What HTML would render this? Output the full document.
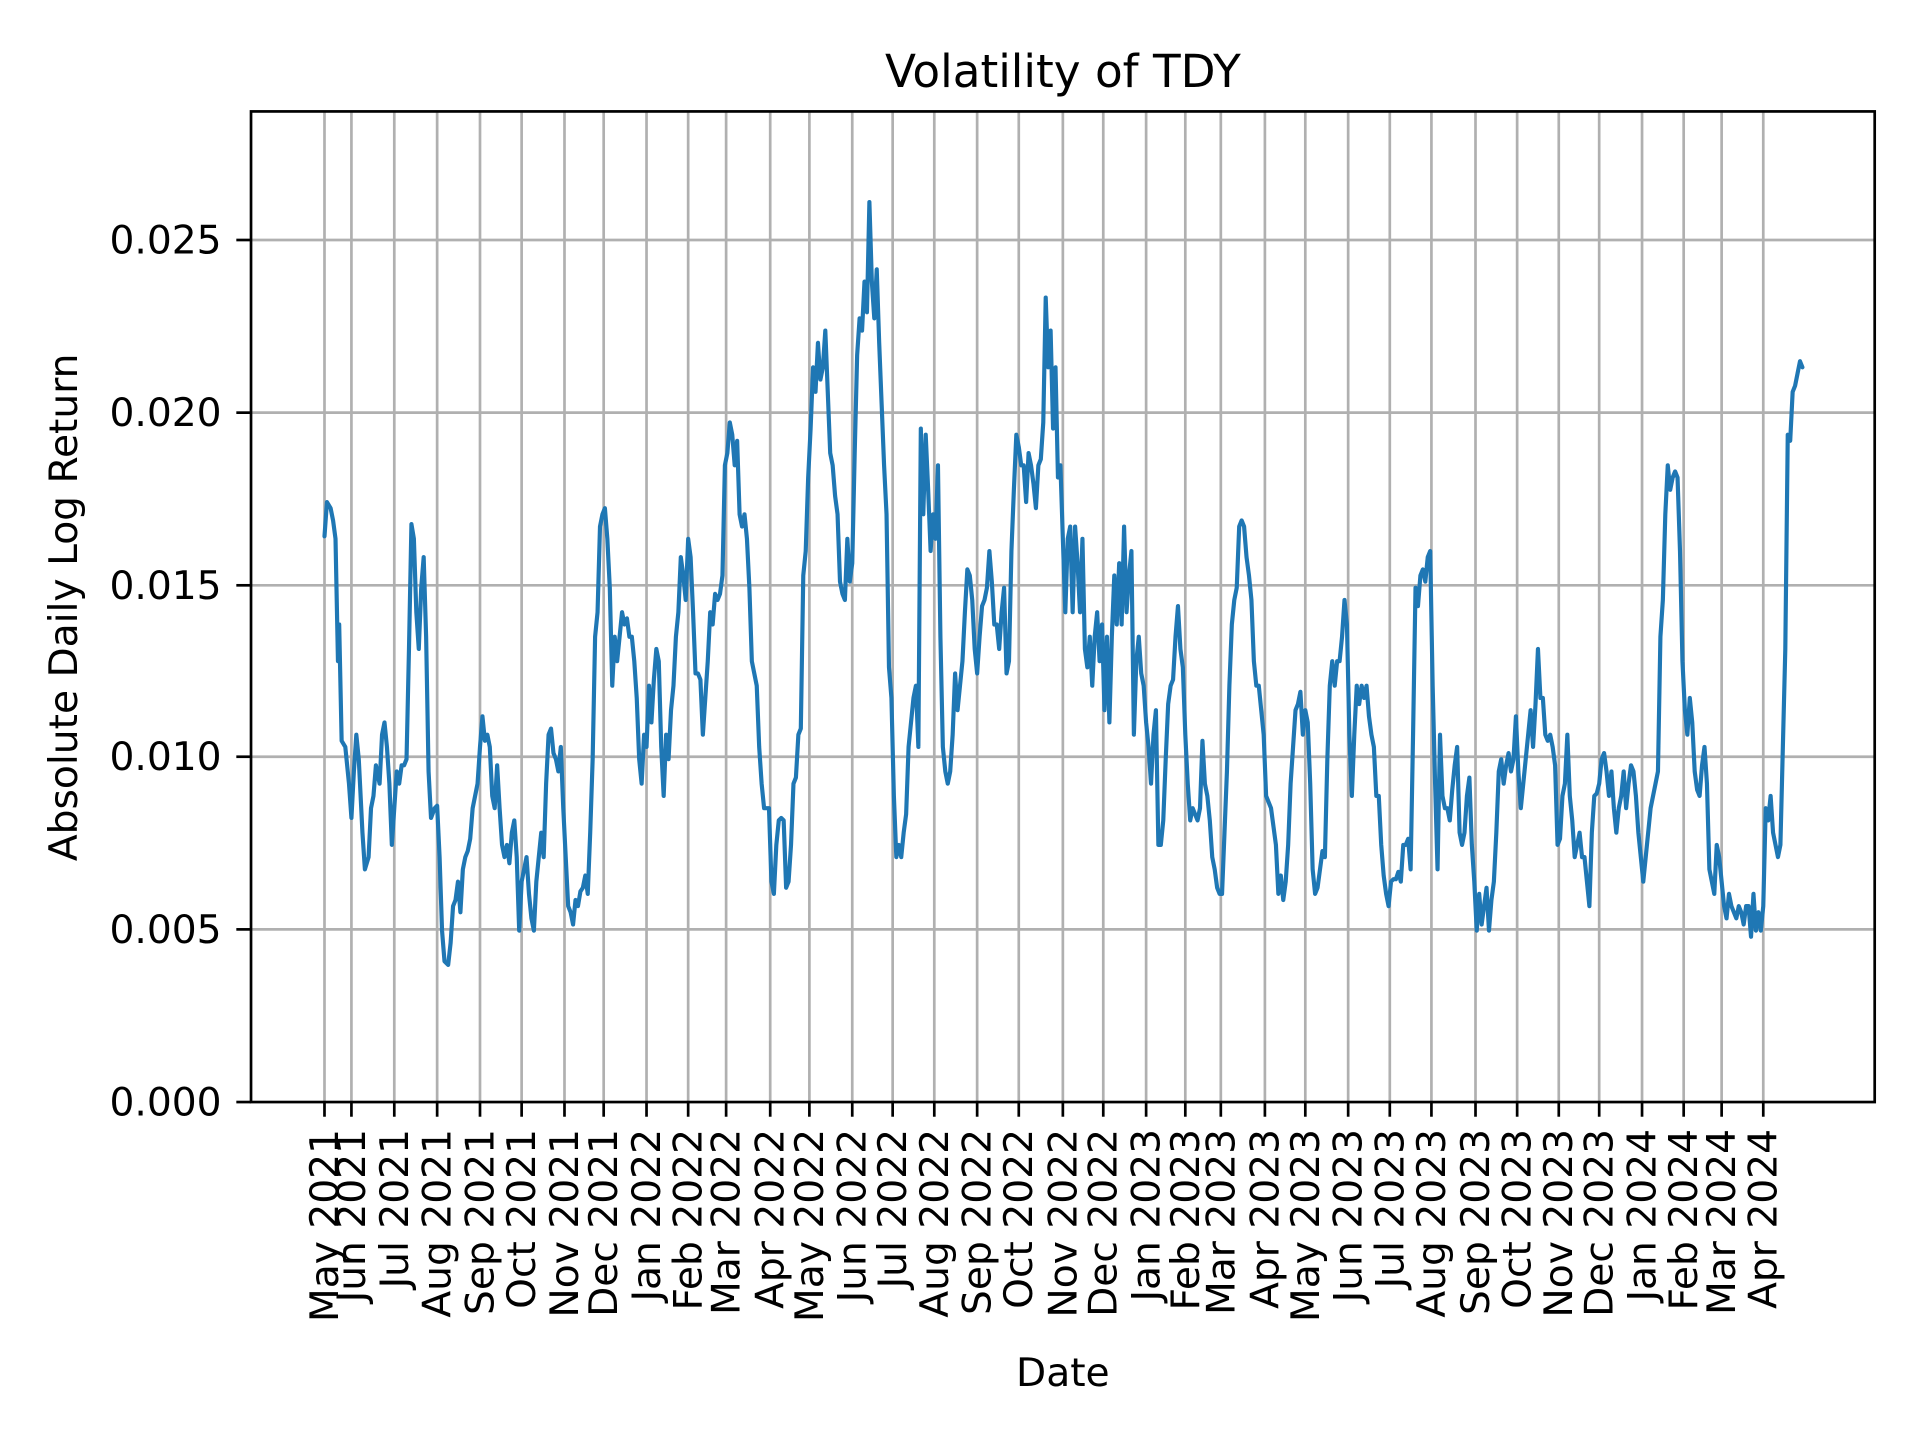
<!DOCTYPE html>
<html><head><meta charset="utf-8"><style>html,body{margin:0;padding:0;background:#fff}svg{display:block}</style></head>
<body>
<svg width="1920" height="1440" viewBox="0 0 1568 1176" preserveAspectRatio="none" xmlns="http://www.w3.org/2000/svg" font-family="'DejaVu Sans', 'Liberation Sans', sans-serif">
<rect width="1568" height="1176" fill="#fff"/>
<g stroke="#b0b0b0" stroke-width="2.2">
<line x1="205" x2="1531" y1="759" y2="759"/><line x1="205" x2="1531" y1="618" y2="618"/><line x1="205" x2="1531" y1="478" y2="478"/><line x1="205" x2="1531" y1="337" y2="337"/><line x1="205" x2="1531" y1="196" y2="196"/>
<line x1="265" x2="265" y1="91" y2="900"/><line x1="287" x2="287" y1="91" y2="900"/><line x1="322" x2="322" y1="91" y2="900"/><line x1="357" x2="357" y1="91" y2="900"/><line x1="392" x2="392" y1="91" y2="900"/><line x1="426" x2="426" y1="91" y2="900"/><line x1="461" x2="461" y1="91" y2="900"/><line x1="493" x2="493" y1="91" y2="900"/><line x1="528" x2="528" y1="91" y2="900"/><line x1="562" x2="562" y1="91" y2="900"/><line x1="593" x2="593" y1="91" y2="900"/><line x1="629" x2="629" y1="91" y2="900"/><line x1="661" x2="661" y1="91" y2="900"/><line x1="696" x2="696" y1="91" y2="900"/><line x1="729" x2="729" y1="91" y2="900"/><line x1="763" x2="763" y1="91" y2="900"/><line x1="798" x2="798" y1="91" y2="900"/><line x1="832" x2="832" y1="91" y2="900"/><line x1="868" x2="868" y1="91" y2="900"/><line x1="901" x2="901" y1="91" y2="900"/><line x1="936" x2="936" y1="91" y2="900"/><line x1="968" x2="968" y1="91" y2="900"/><line x1="997" x2="997" y1="91" y2="900"/><line x1="1033" x2="1033" y1="91" y2="900"/><line x1="1066" x2="1066" y1="91" y2="900"/><line x1="1101" x2="1101" y1="91" y2="900"/><line x1="1135" x2="1135" y1="91" y2="900"/><line x1="1169" x2="1169" y1="91" y2="900"/><line x1="1205" x2="1205" y1="91" y2="900"/><line x1="1239" x2="1239" y1="91" y2="900"/><line x1="1273" x2="1273" y1="91" y2="900"/><line x1="1306" x2="1306" y1="91" y2="900"/><line x1="1341" x2="1341" y1="91" y2="900"/><line x1="1375" x2="1375" y1="91" y2="900"/><line x1="1406" x2="1406" y1="91" y2="900"/><line x1="1440" x2="1440" y1="91" y2="900"/>
</g>
<polyline fill="none" stroke="#1f77b4" stroke-width="3.4" stroke-linejoin="round" stroke-linecap="round" points="265,438 267,410 270,415 272,425 274,440 276,540 277,510 279,605 282,610 285,640 287,668 289,630 291,600 293,620 296,680 298,710 301,700 303,660 305,650 307,625 310,640 312,600 314,590 316,610 318,640 320,690 322,660 324,630 326,640 328,625 330,625 332,620 334,530 336,428 338,440 340,500 342,530 344,480 346,455 348,520 350,630 352,668 355,660 357,658 359,700 361,760 363,785 366,788 368,770 370,740 372,735 374,720 376,745 378,710 380,700 382,695 384,685 386,660 388,650 390,640 392,610 394,585 396,605 398,600 400,610 402,650 404,660 406,625 408,660 410,690 412,700 414,690 416,705 418,680 420,670 422,700 424,760 426,720 428,710 430,700 432,730 434,750 436,760 438,720 440,700 442,680 444,700 446,640 448,600 450,595 452,615 454,620 456,630 458,610 460,660 462,700 464,740 466,745 468,755 470,735 472,740 474,728 476,725 478,715 480,730 482,680 484,620 486,520 488,500 490,430 492,420 494,415 496,440 498,480 500,560 502,520 504,540 506,520 508,500 510,510 512,505 514,520 516,520 518,540 520,570 522,620 524,640 526,600 528,610 530,560 532,590 534,555 536,530 538,540 540,610 542,650 544,600 546,620 548,580 550,560 552,520 554,500 556,455 558,470 560,490 562,440 564,455 566,500 568,550 570,550 572,555 574,600 576,570 578,540 580,500 582,510 584,485 586,490 588,485 590,470 592,380 594,370 596,345 598,355 600,380 602,360 604,420 606,430 608,420 610,440 612,480 614,540 616,550 618,560 620,610 622,640 624,660 626,660 628,660 630,720 632,730 634,690 636,670 638,668 640,670 642,725 644,720 646,690 648,640 650,635 652,600 654,595 656,470 658,450 660,390 662,350 664,300 666,320 668,280 670,310 672,300 674,270 676,320 678,370 680,380 682,405 684,420 686,475 688,485 690,490 692,440 694,475 696,460 698,370 700,290 702,260 704,270 706,230 708,255 710,165 712,230 714,260 716,220 718,280 720,330 722,380 724,420 726,545 728,570 730,650 732,700 734,690 736,700 738,680 740,665 742,610 744,590 746,570 748,560 750,610 752,350 754,420 756,355 758,400 760,450 762,420 764,440 766,380 768,520 770,610 772,630 774,640 776,630 778,600 780,550 782,580 784,560 786,540 788,500 790,465 792,470 794,490 796,530 798,550 800,520 802,495 804,490 806,480 808,450 810,475 812,510 814,510 816,530 818,500 820,480 822,550 824,540 826,450 828,400 830,355 832,365 834,380 836,380 838,410 840,370 842,380 844,395 846,415 848,380 850,375 852,345 854,243 856,300 858,270 860,350 862,300 864,390 866,380 868,440 870,500 872,440 874,430 876,500 878,430 880,460 882,500 884,440 886,530 888,545 890,520 892,560 894,520 896,500 898,540 900,510 902,580 904,520 906,590 908,520 910,470 912,510 914,460 916,510 918,430 920,500 922,470 924,450 926,600 928,540 930,520 932,550 934,560 936,590 938,610 940,640 942,600 944,580 946,690 948,690 950,670 952,620 954,575 956,560 958,555 960,520 962,495 964,530 966,545 968,600 970,640 972,670 974,660 976,665 978,670 980,660 982,605 984,640 986,650 988,670 990,700 992,710 994,725 996,730 998,730 1000,680 1002,630 1004,560 1006,510 1008,490 1010,480 1012,430 1014,425 1016,430 1018,455 1020,470 1022,490 1024,540 1026,560 1028,560 1030,580 1032,600 1034,650 1036,655 1038,660 1040,675 1042,690 1044,730 1046,715 1048,735 1050,720 1052,690 1054,640 1056,610 1058,580 1060,575 1062,565 1064,600 1066,580 1068,590 1070,640 1072,710 1074,730 1076,725 1078,710 1080,695 1082,700 1084,620 1086,560 1088,540 1090,560 1092,540 1094,540 1096,520 1098,490 1100,510 1102,600 1104,650 1106,600 1108,560 1110,575 1112,560 1114,570 1116,560 1118,585 1120,600 1122,610 1124,650 1126,650 1128,690 1130,715 1132,730 1134,740 1136,720 1138,718 1140,718 1142,712 1144,720 1146,690 1148,690 1150,685 1152,710 1154,600 1156,480 1158,495 1160,470 1162,465 1164,475 1166,455 1168,450 1170,560 1172,640 1174,710 1176,600 1178,650 1180,660 1182,660 1184,670 1186,645 1188,625 1190,610 1192,680 1194,690 1196,680 1198,650 1200,635 1202,690 1204,720 1206,760 1208,730 1210,755 1212,740 1214,725 1216,760 1218,735 1220,720 1222,680 1224,630 1226,620 1228,640 1230,625 1232,615 1234,630 1236,620 1238,585 1240,630 1242,660 1244,640 1246,620 1248,600 1250,580 1252,610 1254,575 1256,530 1258,570 1260,570 1262,600 1264,605 1266,600 1268,610 1270,625 1272,690 1274,685 1276,650 1278,640 1280,600 1282,650 1284,670 1286,700 1288,690 1290,680 1292,700 1294,700 1296,720 1298,740 1300,680 1302,650 1304,648 1306,640 1308,620 1310,615 1312,630 1314,650 1316,630 1318,660 1320,680 1322,660 1324,650 1326,630 1328,660 1330,640 1332,625 1334,630 1336,650 1338,680 1340,700 1342,720 1344,700 1346,680 1348,660 1350,650 1352,640 1354,630 1356,520 1358,490 1360,420 1362,380 1364,400 1366,390 1368,385 1370,390 1372,450 1374,540 1376,580 1378,600 1380,570 1382,590 1384,630 1386,645 1388,650 1390,625 1392,610 1394,640 1396,710 1398,720 1400,730 1402,690 1404,700 1406,720 1408,740 1410,750 1412,730 1414,740 1416,745 1418,750 1420,740 1422,745 1424,755 1426,740 1428,740 1430,765 1432,730 1434,760 1436,745 1438,760 1440,740 1442,660 1444,670 1446,650 1448,680 1450,690 1452,700 1454,690 1456,610 1458,530 1460,355 1462,360 1464,320 1466,315 1468,305 1470,295 1472,300"/>
<rect x="205" y="91" width="1326" height="809" fill="none" stroke="#000" stroke-width="2.2"/>
<g stroke="#000" stroke-width="2.2">
<line x1="193" x2="205" y1="900" y2="900"/><line x1="193" x2="205" y1="759" y2="759"/><line x1="193" x2="205" y1="618" y2="618"/><line x1="193" x2="205" y1="478" y2="478"/><line x1="193" x2="205" y1="337" y2="337"/><line x1="193" x2="205" y1="196" y2="196"/>
<line x1="265" x2="265" y1="900" y2="912"/><line x1="287" x2="287" y1="900" y2="912"/><line x1="322" x2="322" y1="900" y2="912"/><line x1="357" x2="357" y1="900" y2="912"/><line x1="392" x2="392" y1="900" y2="912"/><line x1="426" x2="426" y1="900" y2="912"/><line x1="461" x2="461" y1="900" y2="912"/><line x1="493" x2="493" y1="900" y2="912"/><line x1="528" x2="528" y1="900" y2="912"/><line x1="562" x2="562" y1="900" y2="912"/><line x1="593" x2="593" y1="900" y2="912"/><line x1="629" x2="629" y1="900" y2="912"/><line x1="661" x2="661" y1="900" y2="912"/><line x1="696" x2="696" y1="900" y2="912"/><line x1="729" x2="729" y1="900" y2="912"/><line x1="763" x2="763" y1="900" y2="912"/><line x1="798" x2="798" y1="900" y2="912"/><line x1="832" x2="832" y1="900" y2="912"/><line x1="868" x2="868" y1="900" y2="912"/><line x1="901" x2="901" y1="900" y2="912"/><line x1="936" x2="936" y1="900" y2="912"/><line x1="968" x2="968" y1="900" y2="912"/><line x1="997" x2="997" y1="900" y2="912"/><line x1="1033" x2="1033" y1="900" y2="912"/><line x1="1066" x2="1066" y1="900" y2="912"/><line x1="1101" x2="1101" y1="900" y2="912"/><line x1="1135" x2="1135" y1="900" y2="912"/><line x1="1169" x2="1169" y1="900" y2="912"/><line x1="1205" x2="1205" y1="900" y2="912"/><line x1="1239" x2="1239" y1="900" y2="912"/><line x1="1273" x2="1273" y1="900" y2="912"/><line x1="1306" x2="1306" y1="900" y2="912"/><line x1="1341" x2="1341" y1="900" y2="912"/><line x1="1375" x2="1375" y1="900" y2="912"/><line x1="1406" x2="1406" y1="900" y2="912"/><line x1="1440" x2="1440" y1="900" y2="912"/>
</g>
<g font-size="32" text-anchor="end" fill="#000">
<text x="181" y="911">0.000</text><text x="181" y="770">0.005</text><text x="181" y="629">0.010</text><text x="181" y="489">0.015</text><text x="181" y="348">0.020</text><text x="181" y="207">0.025</text>
</g>
<g font-size="32" text-anchor="end" fill="#000">
<text transform="translate(276,922) rotate(-90)">May 2021</text>
<text transform="translate(298,922) rotate(-90)">Jun 2021</text>
<text transform="translate(333,922) rotate(-90)">Jul 2021</text>
<text transform="translate(368,922) rotate(-90)">Aug 2021</text>
<text transform="translate(403,922) rotate(-90)">Sep 2021</text>
<text transform="translate(437,922) rotate(-90)">Oct 2021</text>
<text transform="translate(472,922) rotate(-90)">Nov 2021</text>
<text transform="translate(504,922) rotate(-90)">Dec 2021</text>
<text transform="translate(539,922) rotate(-90)">Jan 2022</text>
<text transform="translate(573,922) rotate(-90)">Feb 2022</text>
<text transform="translate(604,922) rotate(-90)">Mar 2022</text>
<text transform="translate(640,922) rotate(-90)">Apr 2022</text>
<text transform="translate(672,922) rotate(-90)">May 2022</text>
<text transform="translate(707,922) rotate(-90)">Jun 2022</text>
<text transform="translate(740,922) rotate(-90)">Jul 2022</text>
<text transform="translate(774,922) rotate(-90)">Aug 2022</text>
<text transform="translate(809,922) rotate(-90)">Sep 2022</text>
<text transform="translate(843,922) rotate(-90)">Oct 2022</text>
<text transform="translate(879,922) rotate(-90)">Nov 2022</text>
<text transform="translate(912,922) rotate(-90)">Dec 2022</text>
<text transform="translate(947,922) rotate(-90)">Jan 2023</text>
<text transform="translate(979,922) rotate(-90)">Feb 2023</text>
<text transform="translate(1008,922) rotate(-90)">Mar 2023</text>
<text transform="translate(1044,922) rotate(-90)">Apr 2023</text>
<text transform="translate(1077,922) rotate(-90)">May 2023</text>
<text transform="translate(1112,922) rotate(-90)">Jun 2023</text>
<text transform="translate(1146,922) rotate(-90)">Jul 2023</text>
<text transform="translate(1180,922) rotate(-90)">Aug 2023</text>
<text transform="translate(1216,922) rotate(-90)">Sep 2023</text>
<text transform="translate(1250,922) rotate(-90)">Oct 2023</text>
<text transform="translate(1284,922) rotate(-90)">Nov 2023</text>
<text transform="translate(1317,922) rotate(-90)">Dec 2023</text>
<text transform="translate(1352,922) rotate(-90)">Jan 2024</text>
<text transform="translate(1386,922) rotate(-90)">Feb 2024</text>
<text transform="translate(1417,922) rotate(-90)">Mar 2024</text>
<text transform="translate(1451,922) rotate(-90)">Apr 2024</text>
</g>
<text x="868" y="1132" font-size="32" text-anchor="middle">Date</text>
<text transform="translate(63,496) rotate(-90)" font-size="32" text-anchor="middle">Absolute Daily Log Return</text>
<text x="868" y="71" font-size="37" text-anchor="middle">Volatility of TDY</text>
</svg>
</body></html>
